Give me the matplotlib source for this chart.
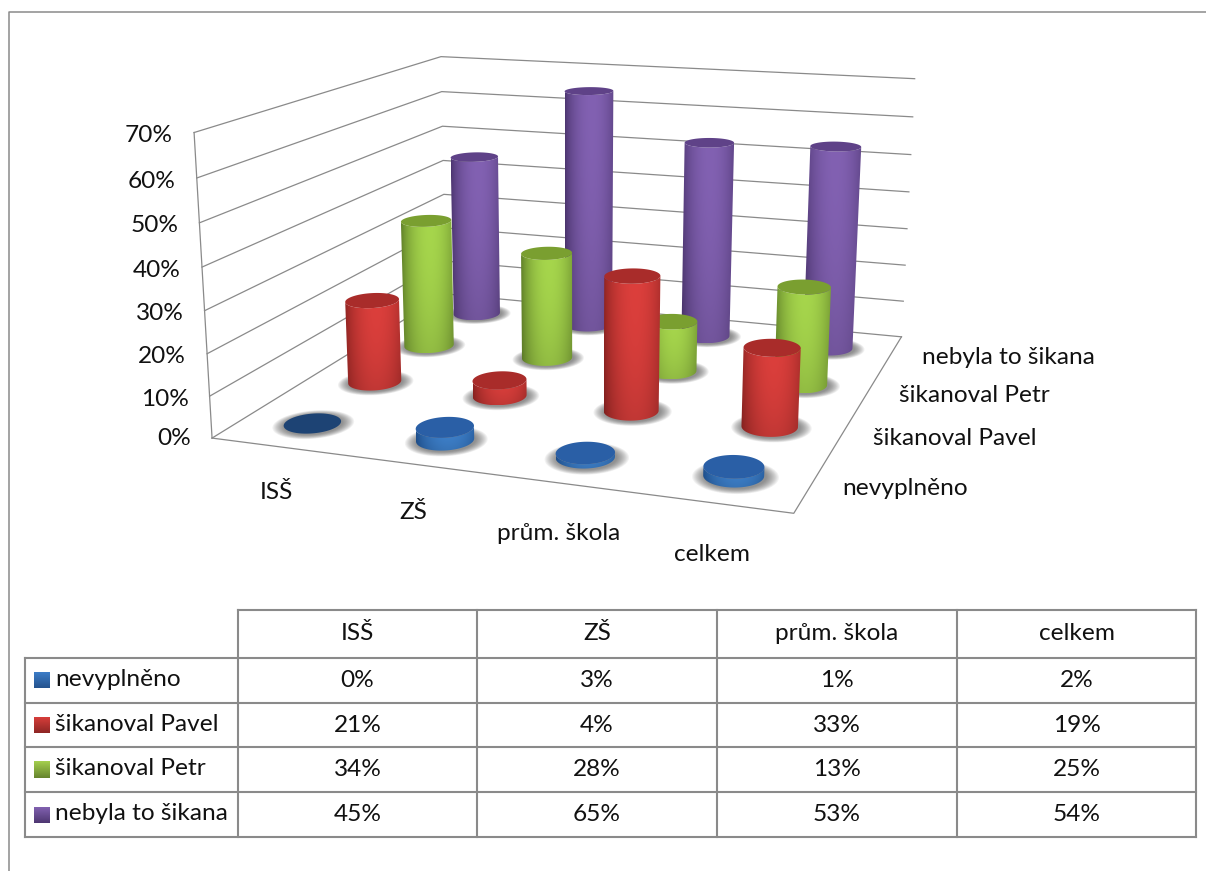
import numpy as np
import matplotlib
matplotlib.use('Agg')
import matplotlib.pyplot as plt
from matplotlib.patches import Polygon
from matplotlib.colors import to_rgb

plt.rcParams['font.family'] = ['Lato', 'DejaVu Sans']

categories = ['ISŠ', 'ZŠ', 'prům. škola', 'celkem']
series = ['nevyplněno', 'šikanoval Pavel', 'šikanoval Petr', 'nebyla to šikana']
nevyplneno = [0, 3, 1, 2]
pavel = [21, 4, 33, 19]
petr = [34, 28, 13, 25]
nebyla = [45, 65, 53, 54]
y_ticks = [0, 10, 20, 30, 40, 50, 60, 70]

values = [nevyplneno, pavel, petr, nebyla]
# edge, highlight, top of every cylinder
colors = [('#1f5190', '#3f83cf', '#2a5fa6'),
          ('#8f2422', '#dc3f3c', '#a92c2a'),
          ('#5f7f28', '#a6d64c', '#7a9f30'),
          ('#4c3570', '#8261b2', '#5f4288')]
swatch_colors = [('#3c7cc6', '#25548f'), ('#d53d3a', '#8f2725'),
                 ('#a3ce4e', '#67852e'), ('#8060ae', '#4f3873')]

W, H = 1206, 871
GRAY = '#8a8a8a'
TEXT = '#111111'
FS = 17.6

# 3D box corners (u along categories, v into depth, w up) and where they land on the picture
box_3d = [(0, 0, 0), (1, 0, 0), (1, 1, 0), (0, 1, 0), (0, 0, 1), (0, 1, 1), (1, 1, 1)]
box_px = [(211, 437), (794, 514), (901, 336), (447, 295), (195, 133), (440, 56), (915, 79)]

rows = []
for (a, b, c), (x, y) in zip(box_3d, box_px):
    rows.append([a, b, c, 1, 0, 0, 0, 0, -x * a, -x * b, -x * c, -x])
    rows.append([0, 0, 0, 0, a, b, c, 1, -y * a, -y * b, -y * c, -y])
camera = np.linalg.svd(np.array(rows, dtype=float))[2][-1].reshape(3, 4)


def project(u, v, w):
    u, v, w = np.broadcast_arrays(np.asarray(u, float), np.asarray(v, float), np.asarray(w, float))
    pts = np.stack([u.ravel(), v.ravel(), w.ravel(), np.ones(u.size)])
    p = camera @ pts
    return p[0] / p[2], p[1] / p[2]


def mix(c1, c2, t):
    return tuple(np.array(to_rgb(c1)) * (1 - t) + np.array(to_rgb(c2)) * t)


def front_arc(bx, by):
    # indices of the ellipse part that faces the viewer, left to right
    n = len(bx) - 1
    start, end = np.argmin(bx[:n]), np.argmax(bx[:n])
    one = [(start + k) % n for k in range((end - start) % n + 1)]
    other = [(start - k) % n for k in range((start - end) % n + 1)]
    return one if by[one].mean() > by[other].mean() else other


def body_image(edge, light):
    # rounded shading across the cylinder, a little darker towards the bottom
    t = np.linspace(0, 1, 80)
    across = np.clip(1 - ((t - 0.55) / 0.55) ** 2, 0, 1) ** 0.8
    row = np.array(to_rgb(edge)) * (1 - across[:, None]) + np.array(to_rgb(light)) * across[:, None]
    down = 1 - 0.12 * np.linspace(0, 1, 40) ** 2
    return row[None, :, :] * down[:, None, None]


fig = plt.figure(figsize=(W / 100, H / 100), dpi=100)
ax = fig.add_axes([0, 0, 1, 1])
ax.set_xlim(0, W)
ax.set_ylim(H, 0)
ax.axis('off')

# chart border
ax.plot([9, 9, W], [H, 12, 12], color=GRAY, lw=1.1)

# walls and floor
for tick in y_ticks:
    w = tick / 70
    x, y = project([0, 0, 1], [0, 1, 1], [w, w, w])
    ax.plot(x, y, color=GRAY, lw=0.9, zorder=1)
    tx, ty = project(0, 0, w)
    ax.text(tx[0] - 21, ty[0] + (3 if tick else 0), f'{tick}%', ha='right', va='center',
            fontsize=FS, color=TEXT)
x, y = project([0, 0], [0, 0], [0, 1])
ax.plot(x, y, color=GRAY, lw=0.9, zorder=1)
x, y = project([0, 1, 1], [0, 0, 1], [0, 0, 0])
ax.plot(x, y, color=GRAY, lw=0.9, zorder=1)

# axis labels along the floor
for i, name in enumerate(categories):
    x, y = project((i + 0.5) / 4, 0, 0)
    ax.text(x[0] - 1, y[0] + 46 + 2 * i, name, ha='center', va='center', fontsize=FS, color=TEXT)
for j, name in enumerate(series):
    x, y = project(1, (j + 0.5) / 4, 0)
    ax.text(x[0] + 31, y[0] + 4, name, ha='left', va='center', fontsize=FS, color=TEXT)

# cylinders
RU, RV = 0.048, 0.054
theta = np.linspace(0, 2 * np.pi, 121)

# shadows first, they lie on the floor under everything
for j in range(3, -1, -1):
    for i in range(4):
        cu, cv = (i + 0.5) / 4, (j + 0.5) / 4
        for scale in np.linspace(1.42, 1.02, 12):
            x, y = project(cu + 0.004 + RU * scale * np.cos(theta),
                           cv - 0.004 + RV * scale * np.sin(theta), 0 * theta)
            ax.fill(x, y, color='#4a4a4a', alpha=0.07, lw=0, zorder=2)

order = 3
for j in range(3, -1, -1):
    edge, light, top = colors[j]
    for i in range(4):
        cu, cv = (i + 0.5) / 4, (j + 0.5) / 4
        w = values[j][i] / 70
        bx, by = project(cu + RU * np.cos(theta), cv + RV * np.sin(theta), 0 * theta)
        tx, ty = project(cu + RU * np.cos(theta), cv + RV * np.sin(theta), 0 * theta + w)
        if values[j][i] > 0:
            arc = front_arc(bx, by)
            outline = np.column_stack([np.r_[bx[arc], tx[arc[::-1]]], np.r_[by[arc], ty[arc[::-1]]]])
            left, right = outline[:, 0].min(), outline[:, 0].max()
            high, low = min(ty.min(), by.min()), max(ty.max(), by.max())
            im = ax.imshow(body_image(edge, light), extent=(left, right, low, high),
                           aspect='auto', zorder=order, interpolation='bilinear')
            # same colour under the image so the clip edge stays soft
            clip = Polygon(outline, closed=True, transform=ax.transData, facecolor='none', edgecolor='none')
            ax.add_patch(clip)
            im.set_clip_path(clip)
        cap = top if values[j][i] > 0 else mix(top, '#000000', 0.3)
        ax.fill(tx, ty, color=cap, lw=0, zorder=order + 0.5)
        order += 1

# data table under the chart
col_x = [238, 477, 717, 957, 1196]
row_y = [610, 658, 703, 747, 792, 837]
TOP = order + 1
ax.plot([col_x[0], col_x[-1]], [row_y[0], row_y[0]], color=GRAY, lw=1.5, zorder=TOP)
for yy in row_y[1:]:
    ax.plot([25, col_x[-1]], [yy, yy], color=GRAY, lw=1.5, zorder=TOP)
ax.plot([25, 25], [row_y[1], row_y[-1]], color=GRAY, lw=1.5, zorder=TOP)
for xx in col_x:
    ax.plot([xx, xx], [row_y[0], row_y[-1]], color=GRAY, lw=1.5, zorder=TOP)

for i, name in enumerate(categories):
    ax.text((col_x[i] + col_x[i + 1]) / 2, (row_y[0] + row_y[1]) / 2 - 1, name,
            ha='center', va='center', fontsize=FS, color=TEXT)
for j, name in enumerate(series):
    yc = (row_y[j + 1] + row_y[j + 2]) / 2
    grad = np.linspace(0, 1, 16)[:, None, None]
    c1, c2 = (np.array(to_rgb(c)) for c in swatch_colors[j])
    ax.imshow(c1 * (1 - grad) + c2 * grad, extent=(34, 50, yc + 8, yc - 8), aspect='auto', zorder=TOP)
    ax.text(55, yc - 1, name, ha='left', va='center', fontsize=FS, color=TEXT)
    for i in range(4):
        ax.text((col_x[i] + col_x[i + 1]) / 2, yc, f'{values[j][i]}%',
                ha='center', va='center', fontsize=FS, color=TEXT)

ax.set_xlim(0, W)
ax.set_ylim(H, 0)
fig.savefig('out.png', dpi=100, facecolor='white')
